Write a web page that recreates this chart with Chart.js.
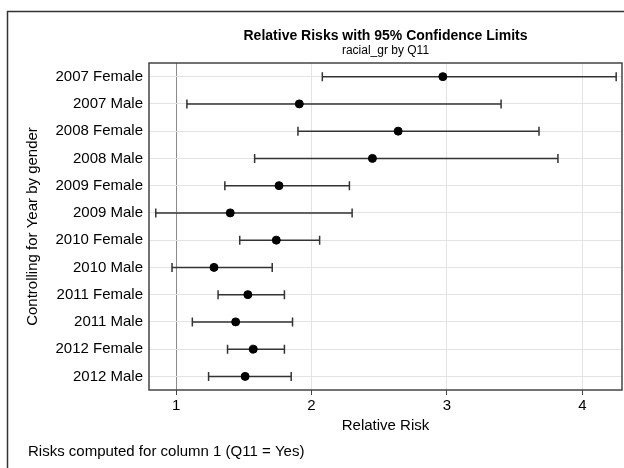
<!DOCTYPE html>
<html>
<head>
<meta charset="utf-8">
<title>Relative Risks with 95% Confidence Limits</title>
<script src="https://cdn.jsdelivr.net/npm/chart.js@4/dist/chart.umd.min.js"></script>
<style>
  body { margin: 0; background: #fff; }
  #rr-chart { display: block; }
</style>
</head>
<body>
<canvas id="rr-chart" width="624" height="468"></canvas>
<script>
// strata, listed top to bottom
const strata = ['2007 Female', '2007 Male', '2008 Female', '2008 Male', '2009 Female', '2009 Male',
    '2010 Female', '2010 Male', '2011 Female', '2011 Male', '2012 Female', '2012 Male'];
const relRisk = [2.97, 1.91, 2.64, 2.45, 1.76, 1.40, 1.74, 1.28, 1.53, 1.44, 1.57, 1.51];
const lowerCL = [2.08, 1.08, 1.90, 1.58, 1.36, 0.85, 1.47, 0.97, 1.31, 1.12, 1.38, 1.24];
const upperCL = [4.25, 3.40, 3.68, 3.82, 2.28, 2.30, 2.06, 1.71, 1.80, 1.86, 1.80, 1.85];
const xTicks = [1, 2, 3, 4];

const FONT = '"Liberation Sans", Arial, sans-serif';
Chart.defaults.font.family = FONT;
Chart.defaults.color = '#000';

// horizontal whiskers with end caps, drawn under the points
const errorBars = {
    id: 'errorBars',
    beforeDatasetsDraw(chart) {
        const { ctx, scales: { x, y } } = chart;
        ctx.save();
        ctx.strokeStyle = '#333';
        ctx.lineWidth = 1.5;
        strata.forEach((s, i) => {
            const py = y.getPixelForValue(i);
            const x0 = x.getPixelForValue(lowerCL[i]);
            const x1 = x.getPixelForValue(upperCL[i]);
            ctx.beginPath();
            ctx.moveTo(x0, py);
            ctx.lineTo(x1, py);
            ctx.moveTo(x0, py - 4.5);
            ctx.lineTo(x0, py + 4.5);
            ctx.moveTo(x1, py - 4.5);
            ctx.lineTo(x1, py + 4.5);
            ctx.stroke();
        });
        ctx.restore();
    }
};

// outer frame, plot box, titles and footnote
const decorations = {
    id: 'decorations',
    beforeDraw(chart) {
        const { ctx } = chart;
        ctx.save();
        ctx.strokeStyle = '#333';
        ctx.lineWidth = 1.5;
        ctx.strokeRect(7.5, 11.5, 700, 600);
        ctx.restore();
    },
    afterDraw(chart) {
        const { ctx, chartArea: a } = chart;
        const cx = (a.left + a.right) / 2;
        ctx.save();
        ctx.strokeStyle = '#444';
        ctx.lineWidth = 1.5;
        ctx.strokeRect(a.left, a.top, a.right - a.left, a.bottom - a.top);

        ctx.fillStyle = '#000';
        ctx.textBaseline = 'middle';
        ctx.textAlign = 'center';
        ctx.font = 'bold 14px ' + FONT;
        ctx.fillText('Relative Risks with 95% Confidence Limits', cx, 36);
        ctx.font = '12px ' + FONT;
        ctx.fillText('racial_gr by Q11', cx, 51);

        ctx.textAlign = 'left';
        ctx.font = '15px ' + FONT;
        ctx.fillText('Risks computed for column 1 (Q11 = Yes)', 28, 452);
        ctx.restore();
    }
};

new Chart(document.getElementById('rr-chart'), {
    type: 'scatter',
    data: {
        datasets: [{
            data: relRisk.map((v, i) => ({ x: v, y: strata[i] })),
            pointRadius: 4,
            pointHoverRadius: 4,
            backgroundColor: '#000',
            borderColor: '#000'
        }]
    },
    options: {
        responsive: false,
        animation: false,
        layout: { autoPadding: false, padding: { top: 63, right: 2, bottom: 0, left: 0 } },
        plugins: {
            legend: { display: false },
            tooltip: { enabled: false }
        },
        scales: {
            x: {
                type: 'linear',
                min: 0.8,
                max: 4.293,
                afterBuildTicks: scale => { scale.ticks = xTicks.map(v => ({ value: v })); },
                afterFit: scale => { scale.height = 78; },
                border: { display: false },
                grid: {
                    color: c => (c.tick && c.tick.value === 1 ? '#8a8a8a' : '#e3e3e3'),
                    tickColor: '#444',
                    tickLength: 5
                },
                ticks: { font: { size: 15 }, padding: 2 },
                title: {
                    display: true,
                    text: 'Relative Risk',
                    font: { size: 15 },
                    padding: { top: 0, bottom: 33 }
                }
            },
            y: {
                type: 'category',
                labels: strata,
                offset: true,
                afterFit: scale => { scale.width = 149; },
                border: { display: false },
                grid: { color: '#e3e3e3', drawTicks: false },
                ticks: { font: { size: 15 }, padding: 6 },
                title: {
                    display: true,
                    text: 'Controlling for Year by gender',
                    font: { size: 15 },
                    padding: { top: 24, bottom: 0 }
                }
            }
        }
    },
    plugins: [errorBars, decorations]
});
</script>
</body>
</html>
